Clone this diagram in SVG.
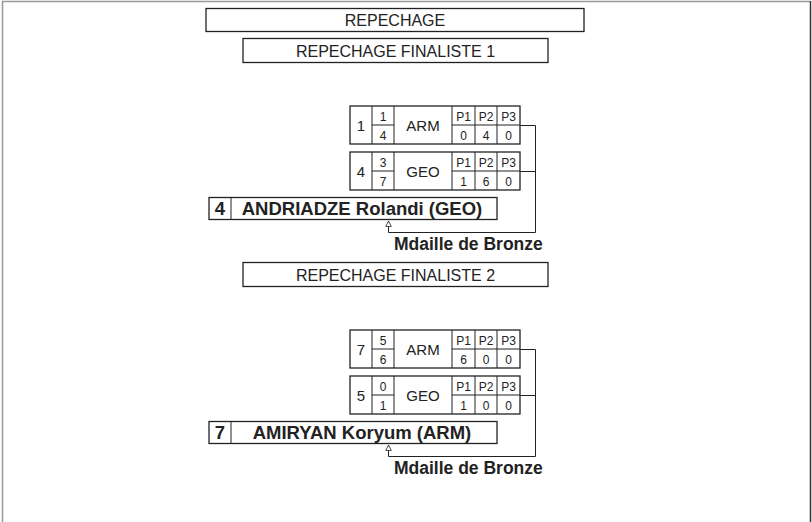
<svg xmlns="http://www.w3.org/2000/svg" width="812" height="522" viewBox="0 0 812 522">
<style>
.box{fill:#fff;stroke:#222;stroke-width:1.3}
.ln{fill:none;stroke:#222;stroke-width:1}
.t{font-family:"Liberation Sans",Arial,sans-serif;fill:#222;text-anchor:middle}
.hd{font-size:16px}
.big{font-size:15px}
.sm{font-size:12px}
.b{font-weight:bold;font-size:18.5px}
.md{font-weight:bold;font-size:17.5px;text-anchor:start}
.conn{fill:none;stroke:#222;stroke-width:1}
</style>
<defs>
<marker id="arr" viewBox="0 0 10 10" refX="9" refY="5" markerWidth="7" markerHeight="7" markerUnits="userSpaceOnUse" orient="auto">
<path d="M1,1 L9,5 L1,9 z" fill="#fff" stroke="#222" stroke-width="1.2"/>
</marker>
<g id="matchTpl">
<rect class="box" x="350" y="0" width="170" height="38"/>
<path class="ln" d="M372,0V38M394,0V38M452,0V38M475,0V38M497,0V38M372,19H394M452,19H520"/>
</g>
</defs>
<rect width="812" height="522" fill="#fff"/>
<g id="frame">
<path d="M2.5,522V1.5H811" fill="none" stroke="#999" stroke-width="1.5"/>
<path d="M810.5,1V522" fill="none" stroke="#333" stroke-width="1.5"/>
</g>

<g id="title">
<rect class="box" x="206" y="8.5" width="378" height="23"/>
<text class="t hd" x="395" y="25.5">REPECHAGE</text>
</g>

<g id="final1-header">
<rect class="box" x="243" y="38.5" width="305" height="24"/>
<text class="t hd" x="395.5" y="56.5">REPECHAGE FINALISTE 1</text>
</g>

<g id="f1-arm">
<use href="#matchTpl" y="106"/>
<text class="t big" x="361" y="130.5">1</text>
<text class="t sm" x="383" y="120.5">1</text>
<text class="t sm" x="383" y="140">4</text>
<text class="t big" x="423" y="130.5">ARM</text>
<text class="t sm" x="463.5" y="120.5">P1</text><text class="t sm" x="486" y="120.5">P2</text><text class="t sm" x="508.5" y="120.5">P3</text>
<text class="t sm" x="463.5" y="140">0</text><text class="t sm" x="486" y="140">4</text><text class="t sm" x="508.5" y="140">0</text>
</g>

<g id="f1-geo">
<use href="#matchTpl" y="152"/>
<text class="t big" x="361" y="176.5">4</text>
<text class="t sm" x="383" y="166.5">3</text>
<text class="t sm" x="383" y="186">7</text>
<text class="t big" x="423" y="176.5">GEO</text>
<text class="t sm" x="463.5" y="166.5">P1</text><text class="t sm" x="486" y="166.5">P2</text><text class="t sm" x="508.5" y="166.5">P3</text>
<text class="t sm" x="463.5" y="186">1</text><text class="t sm" x="486" y="186">6</text><text class="t sm" x="508.5" y="186">0</text>
</g>

<g id="f1-winner">
<rect class="box" x="209" y="197.5" width="288" height="22"/>
<path class="ln" d="M231,197.5V219.5"/>
<text class="t b" x="220" y="215">4</text>
<text class="t b" x="362" y="215">ANDRIADZE Rolandi (GEO)</text>
</g>

<g id="f1-medal">
<text class="t md" x="394" y="250">Mdaille de Bronze</text>
</g>

<g id="final2-header">
<rect class="box" x="243" y="262.5" width="305" height="24"/>
<text class="t hd" x="395.5" y="280.5">REPECHAGE FINALISTE 2</text>
</g>

<g id="f2-arm">
<use href="#matchTpl" y="330"/>
<text class="t big" x="361" y="354.5">7</text>
<text class="t sm" x="383" y="344.5">5</text>
<text class="t sm" x="383" y="364">6</text>
<text class="t big" x="423" y="354.5">ARM</text>
<text class="t sm" x="463.5" y="344.5">P1</text><text class="t sm" x="486" y="344.5">P2</text><text class="t sm" x="508.5" y="344.5">P3</text>
<text class="t sm" x="463.5" y="364">6</text><text class="t sm" x="486" y="364">0</text><text class="t sm" x="508.5" y="364">0</text>
</g>

<g id="f2-geo">
<use href="#matchTpl" y="376"/>
<text class="t big" x="361" y="400.5">5</text>
<text class="t sm" x="383" y="390.5">0</text>
<text class="t sm" x="383" y="410">1</text>
<text class="t big" x="423" y="400.5">GEO</text>
<text class="t sm" x="463.5" y="390.5">P1</text><text class="t sm" x="486" y="390.5">P2</text><text class="t sm" x="508.5" y="390.5">P3</text>
<text class="t sm" x="463.5" y="410">1</text><text class="t sm" x="486" y="410">0</text><text class="t sm" x="508.5" y="410">0</text>
</g>

<g id="f2-winner">
<rect class="box" x="209" y="421.5" width="288" height="22"/>
<path class="ln" d="M231,421.5V443.5"/>
<text class="t b" x="220" y="439">7</text>
<text class="t b" x="362" y="439">AMIRYAN Koryum (ARM)</text>
</g>

<g id="f2-medal">
<text class="t md" x="394" y="474">Mdaille de Bronze</text>
</g>

<g id="connectors">
<path class="conn" d="M520,125.5H535.5M520,171.5H535.5M535.5,125.5V232.5H388.5V221" marker-end="url(#arr)"/>
<path class="conn" d="M520,349.5H535.5M520,395.5H535.5M535.5,349.5V456.5H388.5V445" marker-end="url(#arr)"/>
</g>
</svg>
